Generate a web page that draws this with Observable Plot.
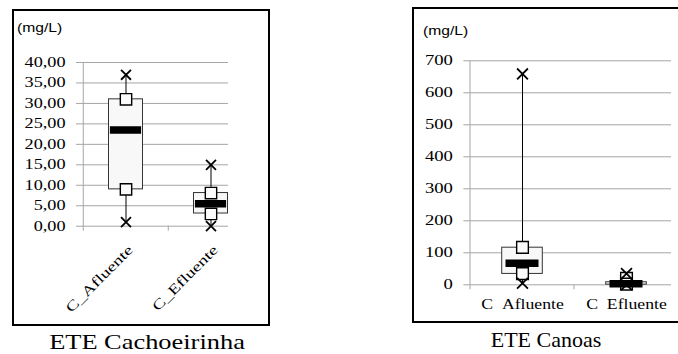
<!DOCTYPE html>
<html>
<head>
<meta charset="utf-8">
<script src="https://cdn.jsdelivr.net/npm/d3@7"></script>
<script src="https://cdn.jsdelivr.net/npm/@observablehq/plot@0.6"></script>
<style>
  html, body { margin: 0; padding: 0; background: #fff; }
  #root { position: relative; width: 678px; height: 354px; overflow: hidden; background: #fff; }
  .frame { position: absolute; box-sizing: border-box; border: 2px solid #000; }
  .abs { position: absolute; }
  .unit { position: absolute; font-family: 'Liberation Sans', Arial, sans-serif; font-size: 12.5px; line-height: 1; transform-origin: left center; transform: scaleX(1.25); white-space: nowrap; }
  .title { position: absolute; font-family: 'Liberation Serif', 'Times New Roman', serif; font-size: 22px; line-height: 1; white-space: nowrap; }
</style>
</head>
<body>
<div id="root">
  <div class="frame" style="left:12px; top:9px; width:258px; height:317px;"></div>
  <div class="frame" style="left:412px; top:7px; width:300px; height:316px;"></div>
  <div class="unit" style="left:17px; top:22px;">(mg/L)</div>
  <div class="unit" style="left:423px; top:25px;">(mg/L)</div>
  <div class="title" style="left:147px; top:331px; transform: translateX(-50%) scaleX(1.2);">ETE Cachoeirinha</div>
  <div class="title" style="left:546px; top:329px; transform: translateX(-50%);">ETE Canoas</div>
  <div id="c1" class="abs" style="left:0; top:0;"></div>
  <div id="c2" class="abs" style="left:0; top:0;"></div>
</div>
<script>
// ---------- Data: ETE Cachoeirinha ----------
const cachCats = ["C_Afluente", "C_Efluente"];
const cachMin = [1.0, 0.0];
const cachPLo = [9.0, 3.0];
const cachQ1 = [9.0, 3.1];
const cachMed = [23.5, 5.5];
const cachQ3 = [31.0, 8.1];
const cachPHi = [31.0, 8.1];
const cachMax = [37.0, 15.0];
const cachTicks = [0, 5, 10, 15, 20, 25, 30, 35, 40];

// ---------- Data: ETE Canoas ----------
const canCats = ["C\u00a0\u00a0Afluente", "C\u00a0\u00a0Efluente"];
const canMin = [5, 0];
const canPLo = [35, 2];
const canQ1 = [34, 0.5];
const canMed = [67, 3];
const canQ3 = [116, 8];
const canPHi = [117, 20];
const canMax = [659, 35];
const canTicks = [0, 100, 200, 300, 400, 500, 600, 700];

function table(cats, mn, plo, q1, md, q3, phi, mx) {
  return cats.map((c, i) => ({cat: c, min: mn[i], plo: plo[i], q1: q1[i], med: md[i], q3: q3[i], phi: phi[i], max: mx[i]}));
}
const cachData = table(cachCats, cachMin, cachPLo, cachQ1, cachMed, cachQ3, cachPHi, cachMax);
const canData = table(canCats, canMin, canPLo, canQ1, canMed, canQ3, canPHi, canMax);

const GRID = "#a6a6a6";
const serif = "'Liberation Serif', 'Times New Roman', serif";

// widen glyphs (the reference text is horizontally stretched) without touching positions
function stretchTexts(nodes, sx) {
  nodes.forEach(t => {
    const L = t.getComputedTextLength();
    if (L > 0) {
      t.setAttribute("textLength", (L * sx).toFixed(2));
      t.setAttribute("lengthAdjust", "spacingAndGlyphs");
    }
  });
}

function boxChart({data, cats, ticks, yDomain, width, height, marginLeft, marginTop, marginBottom, xRange,
                   boxInset, medInset, sqR, xR, tickFmt, rotated}) {
  const step = (xRange[1] - xRange[0]) / cats.length;
  const marks = [
    Plot.gridY(ticks, {stroke: GRID, strokeOpacity: 1, insetLeft: -6}),
    Plot.axisY(ticks, {tickSize: 0, tickPadding: 17, tickFormat: tickFmt, label: null, fontSize: 14}),
    // vertical axis line (at left band edge)
    Plot.ruleX([cats[0]], {x: d => d, dx: -step / 2, y1: yDomain[1], y2: yDomain[0], insetBottom: -5, stroke: GRID}),
    // category boundary tick
    Plot.ruleX([cats[1]], {x: d => d, dx: -step / 2, y1: yDomain[0], y2: yDomain[0], insetBottom: -5, stroke: GRID}),
    // whiskers
    Plot.ruleX(data, {x: "cat", y1: "min", y2: "max", stroke: "#000", strokeWidth: 1}),
    // boxes
    Plot.barY(data, {x: "cat", y1: "q1", y2: "q3", fill: "#f8f8f8", stroke: "#333", strokeWidth: 1,
                     insetLeft: boxInset, insetRight: boxInset}),
    // square markers
    Plot.dot(data, {x: "cat", y: "phi", symbol: "square", r: sqR, fill: "#fbfbfb", stroke: "#000", strokeWidth: 1.4}),
    Plot.dot(data, {x: "cat", y: "plo", symbol: "square", r: sqR, fill: "#fbfbfb", stroke: "#000", strokeWidth: 1.4}),
    // median bars
    Plot.tickY(data, {x: "cat", y: "med", stroke: "#000", strokeWidth: 7.5, insetLeft: medInset, insetRight: medInset}),
    // min / max markers
    Plot.dot(data, {x: "cat", y: "max", symbol: "times", r: xR, stroke: "#000", strokeWidth: 1.8}),
    Plot.dot(data, {x: "cat", y: "min", symbol: "times", r: xR, stroke: "#000", strokeWidth: 1.8})
  ];
  if (rotated) {
    marks.push(Plot.text(cats, {x: d => d, frameAnchor: "bottom", rotate: -45, textAnchor: "end", lineAnchor: "middle",
                                dx: 4.5, dy: 21.5, fontSize: 14}));
  } else {
    marks.push(Plot.text(cats, {x: d => d, frameAnchor: "bottom", textAnchor: "middle", lineAnchor: "top",
                                dy: 14, fontSize: 14.5}));
  }
  return Plot.plot({
    width, height, marginLeft, marginRight: 0, marginTop, marginBottom,
    style: {background: "transparent", overflow: "visible", fontFamily: serif, color: "#000"},
    x: {type: "band", domain: cats, range: xRange, padding: 0, axis: null},
    y: {domain: yDomain, axis: null},
    marks
  });
}

const comma2 = d => d.toFixed(2).replace(".", ",");

const p1 = boxChart({
  data: cachData, cats: cachCats, ticks: cachTicks, yDomain: [0, 40],
  width: 228, height: 330, marginLeft: 82, marginTop: 62, marginBottom: 330 - 225.7,
  xRange: [82, 253], boxInset: 25.5, medInset: 26.9, sqR: 6.4, xR: 4.6,
  tickFmt: comma2, rotated: true
});
document.getElementById("c1").appendChild(p1);

const p2 = boxChart({
  data: canData, cats: canCats, ticks: canTicks, yDomain: [0, 700],
  width: 671, height: 330, marginLeft: 469.3, marginTop: 60.3, marginBottom: 330 - 284.3,
  xRange: [469.3, 679.3], boxInset: 31.7, medInset: 35.5, sqR: 6.6, xR: 5,
  tickFmt: d => String(d), rotated: false
});
document.getElementById("c2").appendChild(p2);

stretchTexts(p1.querySelectorAll('[aria-label^="y-axis"] text'), 1.3);
stretchTexts(p1.querySelectorAll('[aria-label="text"] text'), 1.35);
stretchTexts(p2.querySelectorAll('[aria-label^="y-axis"] text'), 1.33);
stretchTexts(p2.querySelectorAll('[aria-label="text"] text'), 1.22);
</script>
</body>
</html>
